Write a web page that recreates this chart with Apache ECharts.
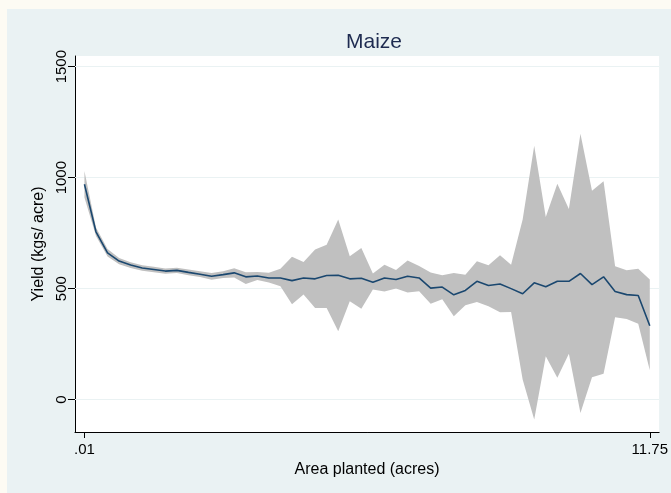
<!DOCTYPE html>
<html><head><meta charset="utf-8">
<script src="https://cdn.jsdelivr.net/npm/echarts@6/dist/echarts.min.js"></script>
<style>
html,body{margin:0;padding:0;background:#fdfbf3;overflow:hidden;}
#panel{position:absolute;left:7px;top:9px;width:700px;height:500px;background:#eaf2f3;}
#c{position:absolute;left:0;top:0;width:671px;height:493px;}
</style>
</head><body><div id="panel"></div><div id="c"></div>
<script>
// Area planted (acres), bin positions
const areaX = [0.01,0.25,0.49,0.73,0.97,1.21,1.45,1.69,1.93,2.17,2.41,2.65,2.89,3.12,3.36,3.60,3.84,4.08,4.32,4.56,4.80,5.04,5.28,5.52,5.76,6.00,6.24,6.48,6.72,6.96,7.20,7.44,7.68,7.92,8.16,8.40,8.64,8.87,9.11,9.35,9.59,9.83,10.07,10.31,10.55,10.79,11.03,11.27,11.51,11.75];
// Mean yield (kgs/acre)
const meanYield = [970,756,661,624,606,593,586,579,582,573,565,556,563,571,553,557,548,548,536,548,544,559,560,544,547,529,548,541,556,548,502,507,472,492,533,514,521,500,477,526,508,533,533,568,518,553,487,473,469,333];
// Upper confidence bound
const upperCI = [1030,775,678,638,619,605,598,591,594,586,578,570,578,592,574,575,572,589,643,620,676,698,811,646,683,568,608,584,627,602,573,560,570,562,623,605,650,608,811,1144,823,973,859,1198,941,984,601,583,590,541];
// Lower confidence bound
const lowerCI = [910,737,645,610,593,581,574,567,570,560,552,540,548,550,521,539,527,511,430,473,413,413,308,443,409,496,487,500,482,488,432,452,376,425,440,420,393,395,90,-90,195,98,206,-60,101,116,371,363,342,132];
const yTicks = [0,500,1000,1500];
const xTicks = [0.01,11.75];
const xTickLabels = ['.01','11.75'];

const font = '"Liberation Sans", Arial, Helvetica, sans-serif';
const chart = echarts.init(document.getElementById('c'), null, {renderer:'canvas'});
const meanData = areaX.map((x,i)=>[x, meanYield[i]]);

chart.setOption({
  animation:false,
  backgroundColor:'transparent',
  title:{text:'Maize', left:369, top:27, textAlign:'center',
    textStyle:{fontFamily:font, fontSize:21, fontWeight:'normal', color:'#1e2b50'}},
  grid:{left:75, right:8, top:56, bottom:61, show:true, backgroundColor:'#ffffff', borderWidth:0},
  xAxis:{type:'value', min:-0.186, max:11.944,
    name:'Area planted (acres)', nameLocation:'middle', nameGap:30,
    nameTextStyle:{fontFamily:font, fontSize:16, color:'#000'},
    axisLine:{show:true, onZero:false, lineStyle:{color:'#000', width:1}},
    axisTick:{show:true, length:6, customValues:xTicks, lineStyle:{color:'#000'}},
    axisLabel:{customValues:xTicks, margin:10, fontFamily:font, fontSize:15, color:'#000',
      formatter:v=>{const k=xTicks.findIndex(t=>Math.abs(t-v)<1e-6);return k>=0?xTickLabels[k]:'';}},
    splitLine:{show:false}},
  yAxis:{type:'value', min:-146, max:1548,
    name:'Yield (kgs/ acre)', nameLocation:'middle', nameGap:24, nameRotate:90,
    nameTextStyle:{fontFamily:font, fontSize:16, color:'#000'},
    axisLine:{show:true, onZero:false, lineStyle:{color:'#000', width:1}},
    axisTick:{show:true, length:7, customValues:yTicks, lineStyle:{color:'#000'}},
    axisLabel:{customValues:yTicks, rotate:90, margin:6, fontFamily:font, fontSize:15, color:'#000',
      formatter:v=>String(v)},
    splitLine:{show:false}},
  series:[
    {type:'line', data:meanData, symbol:'none', z:3,
      lineStyle:{color:'#1a476f', width:1.6},
      markLine:{silent:true, symbol:'none', label:{show:false}, animation:false, z:1,
        lineStyle:{color:'#eaf2f3', type:'solid', width:1},
        data:yTicks.map(v=>({yAxis:v}))}},
    {type:'custom', z:2, silent:true, data:[0],
      renderItem:(params, api)=>{
        const pts = [];
        for (let i=0;i<areaX.length;i++) pts.push(api.coord([areaX[i], upperCI[i]]));
        for (let i=areaX.length-1;i>=0;i--) pts.push(api.coord([areaX[i], lowerCI[i]]));
        return {type:'polygon', shape:{points:pts}, style:{fill:'#c0c0c0', stroke:null}};
      }}
  ]
});
</script></body></html>
